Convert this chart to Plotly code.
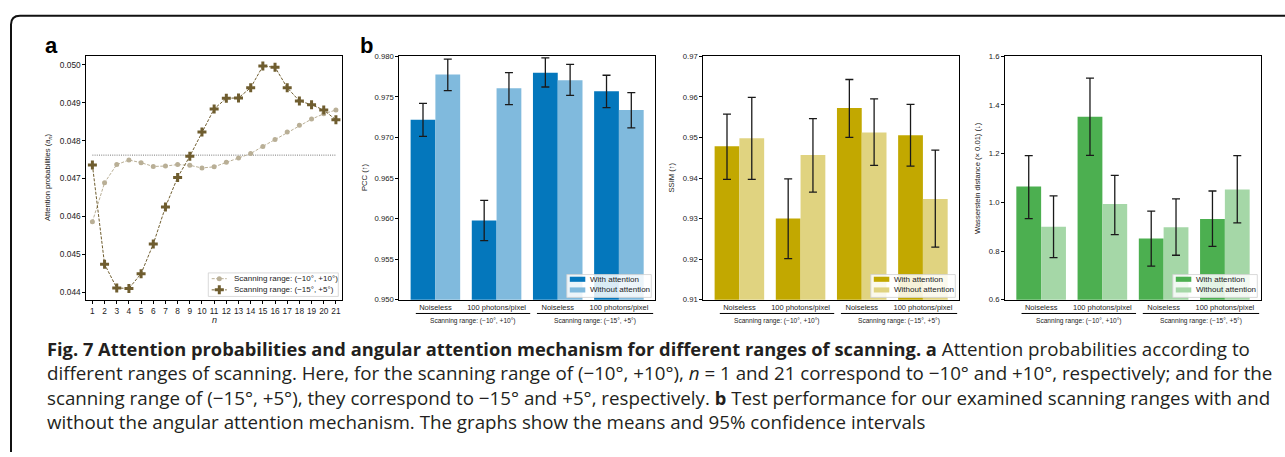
import plotly.graph_objects as go

W, H = 1285, 457

# ---- panel a: attention probabilities over scanning positions ----
n_idx = list(range(1, 22))
att_range_10 = [0.04586, 0.04689, 0.04737, 0.04749, 0.04742, 0.04732, 0.04733,
                0.04737, 0.04735, 0.04728, 0.04731, 0.04743, 0.04754, 0.04766,
                0.04785, 0.04803, 0.04823, 0.04841, 0.04857, 0.04871, 0.04881]
att_range_15 = [0.04736, 0.04474, 0.04411, 0.04410, 0.04449, 0.04527, 0.04625,
                0.04703, 0.04759, 0.04823, 0.04884, 0.04912, 0.04913, 0.04940,
                0.04997, 0.04994, 0.04940, 0.04905, 0.04895, 0.04881, 0.04855]
uniform_level = 1 / 21
series_a_names = ["Scanning range: (\u221210\u00b0, +10\u00b0)",
                  "Scanning range: (\u221215\u00b0, +5\u00b0)"]

# ---- panel b: test metrics with / without angular attention ----
conditions = ["Noiseless", "100 photons/pixel", "Noiseless", "100 photons/pixel"]
range_labels = ["Scanning range: (\u221210\u00b0, +10\u00b0)",
                "Scanning range: (\u221215\u00b0, +5\u00b0)"]
bar_names = ["With attention", "Without attention"]

pcc_with = [0.97219, 0.95975, 0.97798, 0.97569]
pcc_with_lo = [0.97013, 0.95729, 0.97621, 0.97367]
pcc_with_hi = [0.97420, 0.96225, 0.97980, 0.97766]
pcc_without = [0.97774, 0.97605, 0.97705, 0.97339]
pcc_without_lo = [0.97577, 0.97403, 0.97517, 0.97118]
pcc_without_hi = [0.97964, 0.97798, 0.97899, 0.97553]

ssim_with = [0.94785, 0.93000, 0.95727, 0.95051]
ssim_with_lo = [0.93964, 0.92014, 0.95002, 0.94295]
ssim_with_hi = [0.95575, 0.93980, 0.96427, 0.95816]
ssim_without = [0.94978, 0.94568, 0.95123, 0.93481]
ssim_without_lo = [0.93964, 0.93650, 0.94309, 0.92297]
ssim_without_hi = [0.95986, 0.95461, 0.95950, 0.94688]

wd_with = [1.0656, 1.3513, 0.8511, 0.9316]
wd_with_lo = [0.9328, 1.1932, 0.7384, 0.8189]
wd_with_hi = [1.1920, 1.5098, 0.9638, 1.0467]
wd_without = [0.8994, 0.9932, 0.8978, 1.0523]
wd_without_lo = [0.7730, 0.8672, 0.7827, 0.9155]
wd_without_hi = [1.0265, 1.1111, 1.0145, 1.1920]

BOLD = '<b><span style="font-size:18.3px">{}</span></b>'
caption_lines = [
    BOLD.format("Fig. 7 Attention probabilities and angular attention mechanism for different ranges of scanning. a")
    + " Attention probabilities according to",
    "different ranges of scanning. Here, for the scanning range of (\u221210\u00b0, +10\u00b0), <i>n</i> = 1 and 21 correspond to \u221210\u00b0 and +10\u00b0, respectively; and for the",
    "scanning range of (\u221215\u00b0, +5\u00b0), they correspond to \u221215\u00b0 and +5\u00b0, respectively. "
    + BOLD.format("b") + " Test performance for our examined scanning ranges with and",
    "without the angular attention mechanism. The graphs show the means and 95% confidence intervals",
]

# ---- styling ----
DARK_OLIVE = "#6f5d2f"
LIGHT_TAN = "#b9af96"
METRIC_COLORS = {
    "pcc": ("#0477bc", "#80badd"),
    "ssim": ("#c2a800", "#e0d380"),
    "wd": ("#4caf50", "#a5d7a7"),
}
SANS = "Liberation Sans, Arial, sans-serif"
TICK_FONT = dict(family=SANS, size=7.7, color="#222")

# plot frames in pixels: (left, right)
TOP, BOTTOM = 53.3, 301.7
FRAME_A = (86.3, 342.0)
FRAMES_B = [(399.3, 655.0), (703.3, 959.0), (1005.0, 1261.0)]


def dom_x(l, r):
    return [l / W, r / W]


def dom_y(t, b):
    return [1 - b / H, 1 - t / H]


fig = go.Figure()

# panel a lines
fig.add_trace(go.Scatter(
    x=n_idx, y=att_range_10, mode="lines+markers", name=series_a_names[0],
    line=dict(color=LIGHT_TAN, width=1, dash="3px,1.5px"),
    marker=dict(symbol="circle", size=5, color=LIGHT_TAN),
    xaxis="x", yaxis="y"))
fig.add_trace(go.Scatter(
    x=n_idx, y=att_range_15, mode="lines+markers", name=series_a_names[1],
    line=dict(color=DARK_OLIVE, width=1, dash="3px,1.5px"),
    marker=dict(symbol="cross", size=7.5, color=DARK_OLIVE),
    xaxis="x", yaxis="y"))

# panel b bars
xpos = [0, 1, 2, 3]
metric_sets = [
    ("pcc", "x2", "y2", pcc_with, pcc_with_lo, pcc_with_hi,
     pcc_without, pcc_without_lo, pcc_without_hi),
    ("ssim", "x3", "y3", ssim_with, ssim_with_lo, ssim_with_hi,
     ssim_without, ssim_without_lo, ssim_without_hi),
    ("wd", "x4", "y4", wd_with, wd_with_lo, wd_with_hi,
     wd_without, wd_without_lo, wd_without_hi),
]
for key, xa, ya, m1, lo1, hi1, m2, lo2, hi2 in metric_sets:
    for name, col, m, lo, hi in [(bar_names[0], METRIC_COLORS[key][0], m1, lo1, hi1),
                                 (bar_names[1], METRIC_COLORS[key][1], m2, lo2, hi2)]:
        fig.add_trace(go.Bar(
            x=xpos, y=m, name=name, xaxis=xa, yaxis=ya,
            marker=dict(color=col, line=dict(width=0)),
            error_y=dict(type="data", symmetric=False,
                         array=[h - v for h, v in zip(hi, m)],
                         arrayminus=[v - l for v, l in zip(m, lo)],
                         color="#1a1a1a", thickness=1.3, width=4)))

axis_common = dict(showline=True, mirror=True, linecolor="black", linewidth=1,
                   showgrid=False, zeroline=False, tickfont=TICK_FONT,
                   ticks="outside", ticklen=3, tickwidth=0.8, tickcolor="black")

layout = dict(
    width=W, height=H, margin=dict(l=0, r=0, t=0, b=0),
    paper_bgcolor="white", plot_bgcolor="rgba(0,0,0,0)",
    showlegend=False, barmode="group", bargap=0.19, bargroupgap=0,
    xaxis=dict(axis_common, domain=dom_x(*FRAME_A), range=[0.5, 21.5],
               tickvals=n_idx, anchor="y",
               tickfont=dict(TICK_FONT, size=8.3)),
    yaxis=dict(axis_common, domain=dom_y(TOP, BOTTOM), range=[0.0438, 0.05023],
               tickvals=[0.044, 0.045, 0.046, 0.047, 0.048, 0.049, 0.050],
               tickformat=".3f", anchor="x",
               tickfont=dict(TICK_FONT, size=8.3)),
)
y_specs = [
    dict(range=[0.95, 0.98], dtick=0.005, tick0=0.95, tickformat=".3f"),
    dict(range=[0.91, 0.97], dtick=0.01, tick0=0.91, tickformat=".2f"),
    dict(range=[0.6, 1.6], dtick=0.2, tick0=0.6, tickformat=".1f"),
]
for i, ((l, r), ys) in enumerate(zip(FRAMES_B, y_specs), start=2):
    layout[f"xaxis{i}"] = dict(axis_common, domain=dom_x(l, r), range=[-0.59, 3.59],
                               tickvals=xpos, ticktext=conditions, ticks="",
                               anchor=f"y{i}", tickfont=dict(TICK_FONT, size=7.5))
    layout[f"yaxis{i}"] = dict(axis_common, domain=dom_y(TOP, BOTTOM), anchor=f"x{i}", **ys)

# full-figure pixel canvas for annotations, legends and the frame
layout["xaxis5"] = dict(domain=[0, 1], range=[0, W], visible=False, anchor="y5", fixedrange=True)
layout["yaxis5"] = dict(domain=[0, 1], range=[H, 0], visible=False, anchor="x5", fixedrange=True)
fig.update_layout(**layout)

shapes = []
annotations = []

# outer rounded frame
shapes.append(dict(type="path", xref="x5", yref="y5",
                   path="M 11,470 L 11,21 Q 11,12 20,12 L 1300,12",
                   line=dict(color="#111", width=2)))

# uniform reference level in panel a
shapes.append(dict(type="line", xref="x", yref="y", x0=1, x1=21,
                   y0=uniform_level, y1=uniform_level,
                   line=dict(color="#555", width=0.8, dash="1px,1.2px"), layer="below"))

# panel letters
annotations.append(dict(xref="x5", yref="y5", x=51, y=42.5, text="<b>a</b>", showarrow=False,
                        font=dict(family=SANS, size=22, color="black")))
annotations.append(dict(xref="x5", yref="y5", x=366, y=42, text="<b>b</b>", showarrow=False,
                        font=dict(family=SANS, size=22, color="black")))

# axis titles
y_titles = [(48, "Attention probabilities (<i>a</i><sub><i>n</i></sub>)"),
            (364, "PCC (\u2191)"), (670.5, "SSIM (\u2191)"),
            (977, "Wasserstein distance (\u00d7 0.01) (\u2193)")]
for xp, txt in y_titles:
    annotations.append(dict(xref="x5", yref="y5", x=xp, y=177.5, text=txt, textangle=-90,
                            showarrow=False, font=dict(family=SANS, size=7.6, color="#222")))
annotations.append(dict(xref="x5", yref="y5", x=214, y=322.5, text="<i>n</i>", showarrow=False,
                        font=dict(family=SANS, size=9, color="#222")))

# scanning-range brackets under the bar panels
brackets = [(-0.32, 1.55), (1.66, 3.56)]
for i in range(2, 5):
    for (b0, b1), lab in zip(brackets, range_labels):
        shapes.append(dict(type="line", xref=f"x{i}", yref="y5", x0=b0, x1=b1,
                           y0=315.7, y1=315.7, line=dict(color="black", width=1)))
        annotations.append(dict(xref=f"x{i}", yref="y5", x=(b0 + b1) / 2, y=323.5, text=lab,
                                showarrow=False, font=dict(family=SANS, size=6.6, color="#222")))

# legend of panel a (box sits beneath its samples)
lx0, lx1, ly0, ly1 = 208.3, 338.3, 274.3, 298.3
shapes.append(dict(type="rect", xref="x5", yref="y5", x0=lx0, x1=lx1, y0=ly0, y1=ly1,
                   line=dict(color="#d0d0d0", width=0.8), fillcolor="rgba(255,255,255,0.85)",
                   layer="below"))
for row_y, col, sym, msize, name in [(280.2, LIGHT_TAN, "circle", 5, series_a_names[0]),
                                     (291.6, DARK_OLIVE, "cross", 7.5, series_a_names[1])]:
    fig.add_trace(go.Scatter(x=[lx0 + 3.4, lx0 + 18.4], y=[row_y] * 2,
                             mode="lines", xaxis="x5", yaxis="y5", cliponaxis=False,
                             line=dict(color=col, width=1, dash="3px,1.5px"),
                             hoverinfo="skip"))
    fig.add_trace(go.Scatter(x=[lx0 + 11], y=[row_y],
                             mode="markers", xaxis="x5", yaxis="y5", cliponaxis=False,
                             marker=dict(symbol=sym, size=msize, color=col),
                             hoverinfo="skip"))
    annotations.append(dict(xref="x5", yref="y5", x=lx0 + 23.4, y=row_y, text=name,
                            xanchor="left", showarrow=False,
                            font=dict(family=SANS, size=8, color="#222")))

# legends of panel b
for (l, r), key in zip(FRAMES_B, ["pcc", "ssim", "wd"]):
    bx1 = r - 3.7
    bx0 = bx1 - 84.5
    shapes.append(dict(type="rect", xref="x5", yref="y5", x0=bx0, x1=bx1, y0=276, y1=299.3,
                       line=dict(color="#d0d0d0", width=0.8), fillcolor="rgba(255,255,255,0.85)"))
    for row_y, col, name in [(280.8, METRIC_COLORS[key][0], bar_names[0]),
                             (291.7, METRIC_COLORS[key][1], bar_names[1])]:
        shapes.append(dict(type="rect", xref="x5", yref="y5", x0=bx0 + 3, x1=bx0 + 18.5,
                           y0=row_y - 2.6, y1=row_y + 2.6, line=dict(width=0), fillcolor=col))
        annotations.append(dict(xref="x5", yref="y5", x=bx0 + 21, y=row_y, text=name,
                                xanchor="left", showarrow=False,
                                font=dict(family=SANS, size=8, color="#222")))

# caption
annotations.append(dict(xref="x5", yref="y5", x=45, y=389, text="<br>".join(caption_lines),
                        xanchor="left", yanchor="middle", align="left", showarrow=False,
                        font=dict(family="Open Sans, sans-serif", size=18.75, color="#231f20")))

fig.update_layout(shapes=shapes, annotations=annotations)
fig.write_html("out.html")
